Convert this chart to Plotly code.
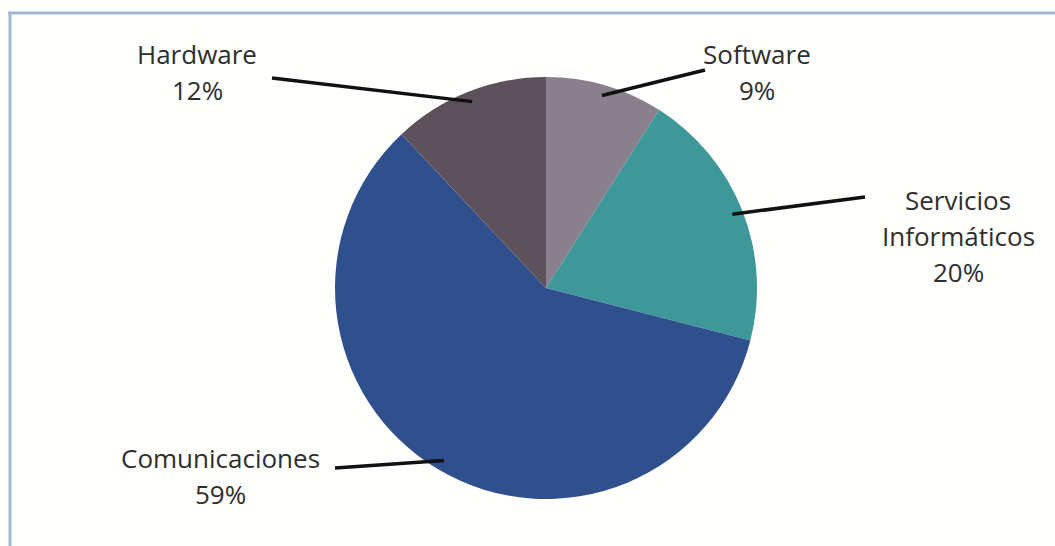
import math
import plotly.graph_objects as go

# Sector data (clockwise from 12 o'clock)
categories = ["Software", "Servicios Informáticos", "Comunicaciones", "Hardware"]
label_lines = [["Software"], ["Servicios", "Informáticos"], ["Comunicaciones"], ["Hardware"]]
shares = [9, 20, 59, 12]
colors = ["#8a7f8c", "#3e9899", "#30508d", "#5d515c"]

W, H = 1055, 546
# pie placement in pixels
CX, CY, R = 546, 288, 211

# label anchor (pixel centre of first text line) and leader-line end point
label_pos = [(757, 54), (958, 200), (220, 458), (197, 54)]
leader_end = [(705, 70), (865, 197), (335, 468), (272, 78)]
LINE_STEP = 36

def px(x):
    return x / W

def py(y):
    return 1 - y / H

fig = go.Figure(go.Pie(
    labels=categories,
    values=shares,
    sort=False,
    direction="clockwise",
    rotation=0,
    marker=dict(colors=colors, line=dict(width=0)),
    textinfo="none",
    hoverinfo="label+percent",
    showlegend=False,
    domain=dict(x=[px(CX - R), px(CX + R)], y=[py(CY + R), py(CY - R)]),
))

shapes = []
annotations = []
total = sum(shares)
cum = 0
text_font = dict(family="Open Sans, sans-serif", size=26, color="#2e2e2e")
for i, v in enumerate(shares):
    mid = (cum + v / 2) / total * 2 * math.pi
    cum += v
    # leader line starts just inside the slice edge at its mid angle
    sx = CX + R * 0.95 * math.sin(mid)
    sy = CY - R * 0.95 * math.cos(mid)
    ex, ey = leader_end[i]
    shapes.append(dict(type="line", xref="paper", yref="paper",
                       x0=px(sx), y0=py(sy), x1=px(ex), y1=py(ey),
                       line=dict(color="#111111", width=3.5)))
    lx, ly = label_pos[i]
    lines = label_lines[i] + [f"{round(v / total * 100)}%"]
    for k, t in enumerate(lines):
        annotations.append(dict(xref="paper", yref="paper",
                                x=px(lx), y=py(ly + k * LINE_STEP),
                                text=t, showarrow=False,
                                xanchor="center", yanchor="middle",
                                font=text_font))

# light blue frame along top and left edges
frame = "#a3b9d1"
shapes.append(dict(type="line", xref="paper", yref="paper",
                   x0=px(8), y0=py(13), x1=1, y1=py(13),
                   line=dict(color=frame, width=3)))
shapes.append(dict(type="line", xref="paper", yref="paper",
                   x0=px(10), y0=py(12), x1=px(10), y1=0,
                   line=dict(color=frame, width=3)))

fig.update_layout(
    width=W, height=H,
    margin=dict(l=0, r=0, t=0, b=0),
    paper_bgcolor="#fffffd",
    plot_bgcolor="#fffffd",
    shapes=shapes,
    annotations=annotations,
)

fig.write_html("out.html")
